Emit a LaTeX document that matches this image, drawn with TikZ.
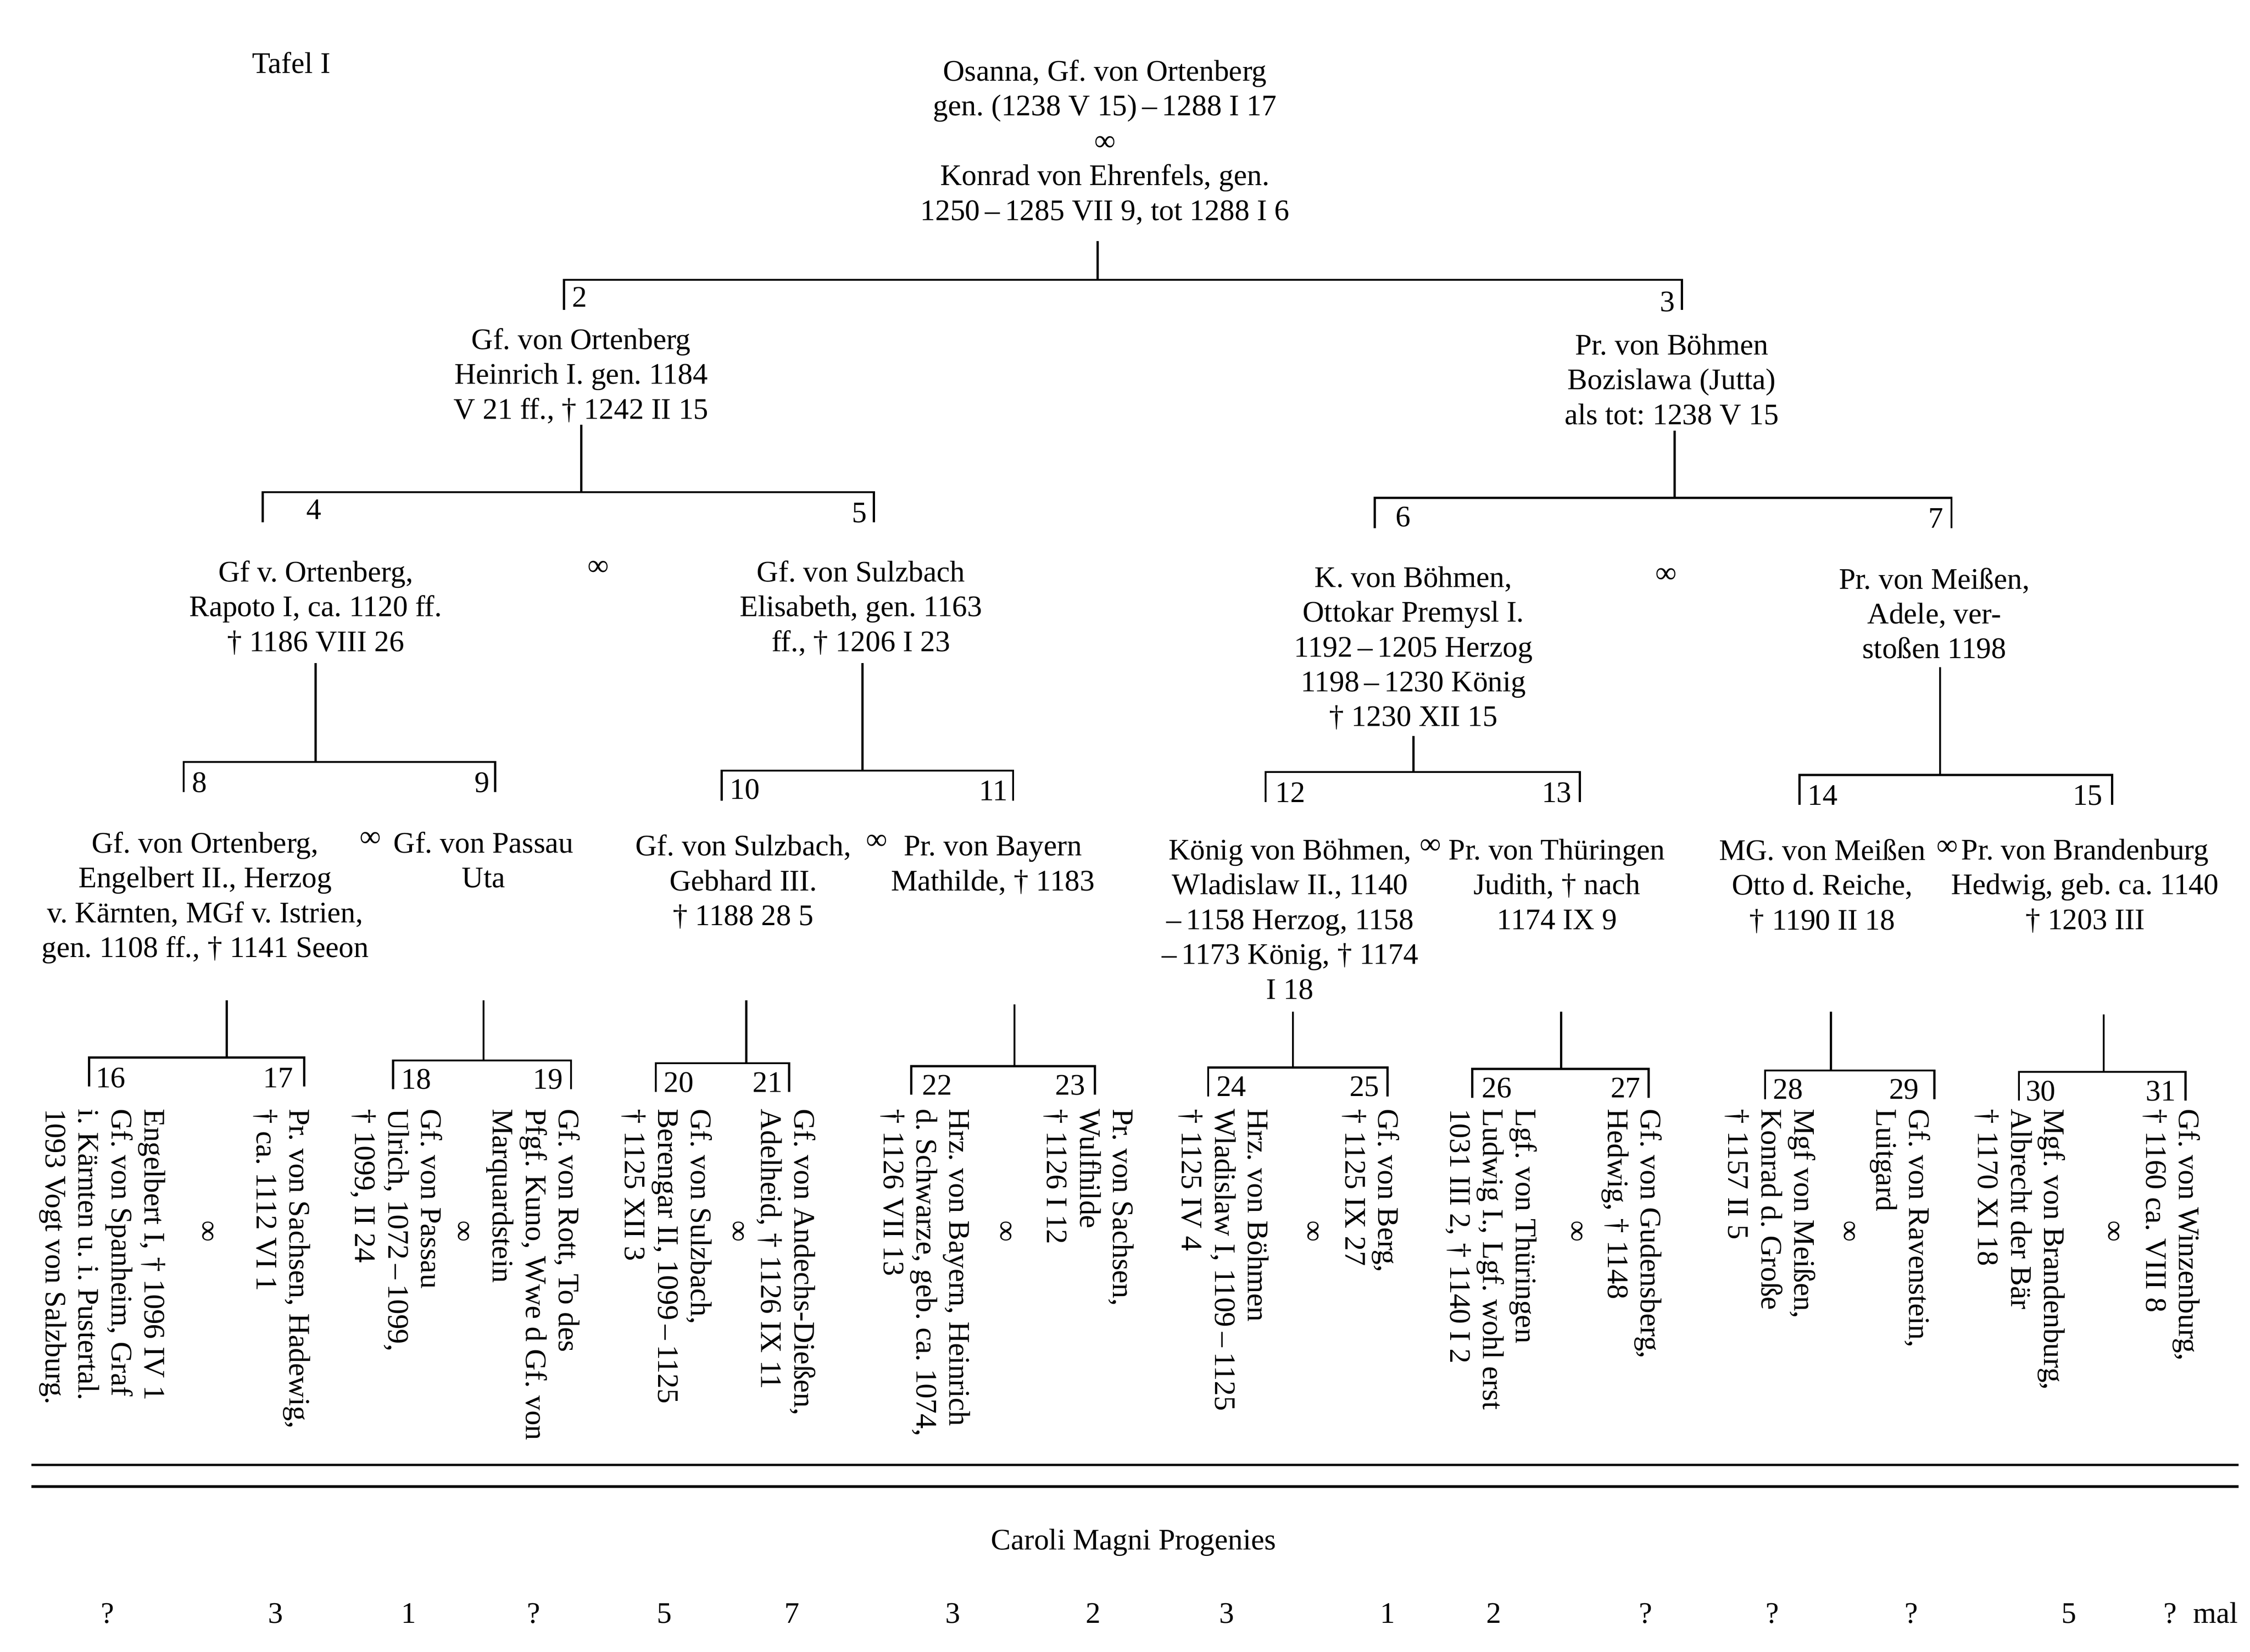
\documentclass[tikz,border=0pt]{standalone}
\usepackage{fontspec}
\usepackage{graphicx}
\setmainfont{Liberation Serif}
\frenchspacing

\tikzset{every picture/.style={line width=1.1pt}}
\tikzset{
  txt/.style={inner sep=0pt, align=center, font=\fontsize{15.6}{18.2}\selectfont},
  vtxt/.style={inner sep=0pt, align=left, rotate=-90, anchor=north west, font=\fontsize{15.6}{17.25}\selectfont},
  vmar/.style={inner sep=0pt, font=\fontsize{15.6}{18}\selectfont},
  num/.style={inner sep=0pt, font=\fontsize{15.6}{18}\selectfont}
}
% stem + bar with two ticks: name, stem x, stem top, bar y, left x, right x, tick
\newcommand{\kinbar}[7]{%
  \coordinate (#1a) at (#2,#3);
  \coordinate (#1b) at (#2,#4);
  \coordinate (#1l) at (#5,#4);
  \coordinate (#1r) at (#6,#4);
  \coordinate (#1ll) at (#5,#4+#7);
  \coordinate (#1rr) at (#6,#4+#7);
  \draw (#1a) -- (#1b);
  \draw (#1ll) -- (#1l) -- (#1r) -- (#1rr);}
\newcommand{\vinf}{\rotatebox{-90}{∞}}

\begin{document}
\frenchspacing
\begin{tikzpicture}[x=0.75pt,y=0.75pt,yscale=-1,xscale=1]
\useasboundingbox (0,0) rectangle (1568,1151.3);
% Title
\node[num, anchor=base west] (tafel) at (175,51) {Tafel I};
% Generation 1
\node[txt, anchor=north] (p1) at (770,41) {Osanna, Gf. von Ortenberg\\gen. (1238 V 15)\,–\,1288 I 17\\∞\\Konrad von Ehrenfels, gen.\\1250\,–\,1285 VII 9, tot 1288 I 6};
\kinbar{b1}{765}{168}{195}{393}{1172}{21}
\node[num, anchor=base west] (l2) at (398,214) {2};
\node[num, anchor=base east] (l3) at (1168,217) {3};
% Generation 2
\node[txt, anchor=north] (p2) at (405,228) {Gf. von Ortenberg\\Heinrich I. gen. 1184\\V 21 ff., † 1242 II 15};
\node[txt, anchor=north] (p3) at (1165,232) {Pr. von Böhmen\\Bozislawa (Jutta)\\als tot: 1238 V 15};
\kinbar{b2}{405}{296}{343}{183}{609}{21}
\kinbar{b3}{1167}{300}{347}{958}{1360}{21}
\node[num, anchor=base west] (l4) at (213,362) {4};
\node[num, anchor=base east] (l5) at (605,364) {5};
\node[num, anchor=base west] (l6) at (972,367) {6};
\node[num, anchor=base east] (l7) at (1355,368) {7};
% Generation 3
\node[txt, anchor=north] (p4) at (220,390) {Gf v. Ortenberg,\\Rapoto I, ca. 1120 ff.\\† 1186 VIII 26};
\node[txt] (m45) at (417,396) {∞};
\node[txt, anchor=north] (p5) at (600,390) {Gf. von Sulzbach\\Elisabeth, gen. 1163\\ff., † 1206 I 23};
\node[txt, anchor=north] (p6) at (985,394) {K. von Böhmen,\\Ottokar Premysl I.\\1192\,–\,1205 Herzog\\1198\,–\,1230 König\\† 1230 XII 15};
\node[txt] (m67) at (1161,401) {∞};
\node[txt, anchor=north] (p7) at (1348,395) {Pr. von Meißen,\\Adele, ver-\\stoßen 1198};
\kinbar{b4}{220}{462}{531}{128}{345}{21}
\kinbar{b5}{601}{462}{537}{503}{706}{21}
\kinbar{b6}{985}{513}{538}{882}{1101}{21}
\kinbar{b7}{1352}{465}{540}{1254}{1472}{21}
\node[num, anchor=base west] (l8) at (133,552) {8};
\node[num, anchor=base east] (l9) at (342,552) {9};
\node[num, anchor=base west] (l10) at (508,557) {10};
\node[num, anchor=base east] (l11) at (703,558) {11};
\node[num, anchor=base west] (l12) at (888,559) {12};
\node[num, anchor=base east] (l13) at (1096,559) {13};
\node[num, anchor=base west] (l14) at (1259,561) {14};
\node[num, anchor=base east] (l15) at (1466,561) {15};
% Generation 4
\node[txt, anchor=north] (p8) at (143,579) {Gf. von Ortenberg,\\Engelbert II., Herzog\\v. Kärnten, MGf v. Istrien,\\gen. 1108 ff., † 1141 Seeon};
\node[txt] (m89) at (258,585) {∞};
\node[txt, anchor=north] (p9) at (337,579) {Gf. von Passau\\Uta};
\node[txt, anchor=north] (p10) at (518,581) {Gf. von Sulzbach,\\Gebhard III.\\† 1188 28 5};
\node[txt] (m1011) at (611,587) {∞};
\node[txt, anchor=north] (p11) at (692,582) {Pr. von Bayern\\Mathilde, † 1183};
\node[txt, anchor=north] (p12) at (899,584) {König von Böhmen,\\Wladislaw II., 1140\\–\,1158 Herzog, 1158\\–\,1173 König, † 1174\\I 18};
\node[txt] (m1213) at (997,590) {∞};
\node[txt, anchor=north] (p13) at (1085,584) {Pr. von Thüringen\\Judith, † nach\\1174 IX 9};
\node[txt, anchor=north] (p14) at (1270,584) {MG. von Meißen\\Otto d. Reiche,\\† 1190 II 18};
\node[txt] (m1415) at (1357,591) {∞};
\node[txt, anchor=north] (p15) at (1453,584) {Pr. von Brandenburg\\Hedwig, geb. ca. 1140\\† 1203 III};
\kinbar{b8}{158}{697}{737}{62}{212}{20}
\kinbar{b9}{337}{697}{739}{274}{398}{20}
\kinbar{b10}{520}{697}{741}{457}{550}{20}
\kinbar{b11}{707}{700}{743}{635}{763}{20}
\kinbar{b12}{901}{705}{744}{842}{967}{20}
\kinbar{b13}{1088}{705}{745}{1026}{1149}{20}
\kinbar{b14}{1276}{705}{746}{1230}{1348}{20}
\kinbar{b15}{1466}{707}{747}{1407}{1523}{20}
\node[num, anchor=base west] (l16) at (66,758) {16};
\node[num, anchor=base east] (l17) at (205,758) {17};
\node[num, anchor=base west] (l18) at (279,759) {18};
\node[num, anchor=base east] (l19) at (393,759) {19};
\node[num, anchor=base west] (l20) at (462,761) {20};
\node[num, anchor=base east] (l21) at (546,761) {21};
\node[num, anchor=base west] (l22) at (642,763) {22};
\node[num, anchor=base east] (l23) at (757,763) {23};
\node[num, anchor=base west] (l24) at (847,764) {24};
\node[num, anchor=base east] (l25) at (962,764) {25};
\node[num, anchor=base west] (l26) at (1032,765) {26};
\node[num, anchor=base east] (l27) at (1144,765) {27};
\node[num, anchor=base west] (l28) at (1235,766) {28};
\node[num, anchor=base east] (l29) at (1338,766) {29};
\node[num, anchor=base west] (l30) at (1411,767) {30};
\node[num, anchor=base east] (l31) at (1517,767) {31};
% Generation 5 (rotated)
\node[vtxt] (p17) at (217,772) {Pr. von Sachsen, Hadewig,\\† ca. 1112 VI 1};
\node[vmar] (m1617) at (144,858) {\vinf};
\node[vtxt] (p16) at (116,772) {Engelbert I, † 1096 IV 1\\Gf. von Spanheim, Graf\\i. Kärnten u. i. Pustertal.\\1093 Vogt von Salzburg.};
\node[vtxt] (p19) at (405,772) {Gf. von Rott, To des\\Pfgf. Kuno, Wwe d Gf. von\\Marquardstein};
\node[vmar] (m1819) at (322,858) {\vinf};
\node[vtxt] (p18) at (309,772) {Gf. von Passau\\Ulrich, 1072\,–\,1099,\\† 1099, II 24};
\node[vtxt] (p21) at (569,772) {Gf. von Andechs-Dießen,\\Adelheid, † 1126 IX 11};
\node[vmar] (m2021) at (513.5,858) {\vinf};
\node[vtxt] (p20) at (497,772) {Gf. von Sulzbach,\\Berengar II, 1099\,–\,1125\\† 1125 XII 3};
\node[vtxt] (p23) at (791,772) {Pr. von Sachsen,\\Wulfhilde\\† 1126 I 12};
\node[vmar] (m2223) at (700,858) {\vinf};
\node[vtxt] (p22) at (677,772) {Hrz. von Bayern, Heinrich\\d. Schwarze, geb. ca. 1074,\\† 1126 VII 13};
\node[vtxt] (p25) at (976,772) {Gf. von Berg,\\† 1125 IX 27};
\node[vmar] (m2425) at (914,858) {\vinf};
\node[vtxt] (p24) at (885,772) {Hrz. von Böhmen\\Wladislaw I, 1109\,–\,1125\\† 1125 IV 4};
\node[vtxt] (p27) at (1159,772) {Gf. von Gudensberg,\\Hedwig, † 1148};
\node[vmar] (m2627) at (1098,858) {\vinf};
\node[vtxt] (p26) at (1072,772) {Lgf. von Thüringen\\Ludwig I., Lgf. wohl erst\\1031 III 2, † 1140 I 2};
\node[vtxt] (p29) at (1346,772) {Gf. von Ravenstein,\\Luitgard};
\node[vmar] (m2829) at (1288,858) {\vinf};
\node[vtxt] (p28) at (1266,772) {Mgf von Meißen,\\Konrad d. Große\\† 1157 II 5};
\node[vtxt] (p31) at (1534,772) {Gf. von Winzenburg,\\† 1160 ca. VIII 8};
\node[vmar] (m3031) at (1472,858) {\vinf};
\node[vtxt] (p30) at (1440,772) {Mgf. von Brandenburg,\\Albrecht der Bär\\† 1170 XI 18};
% Double rule
\coordinate (r1a) at (22,1021); \coordinate (r1b) at (1560,1021);
\coordinate (r2a) at (22,1036); \coordinate (r2b) at (1560,1036);
\draw[line width=1.3pt] (r1a) -- (r1b);
\draw[line width=1.3pt] (r2a) -- (r2b);
% Footer
\node[num, anchor=base] (cmp) at (790,1080) {Caroli Magni Progenies};
\foreach \xx/\tt [count=\i] in {75/?,192/3,285/1,372/?,463/5,552/7,664/3,762/2,855/3,967/1,1041/2,1147/?,1235/?,1332/?,1442/5}
  \node[num, anchor=base] (c\i) at (\xx,1131) {\tt};
\node[num, anchor=base west] (c16) at (1507,1131) {?\hspace{0.55em}mal};
\end{tikzpicture}
\end{document}
